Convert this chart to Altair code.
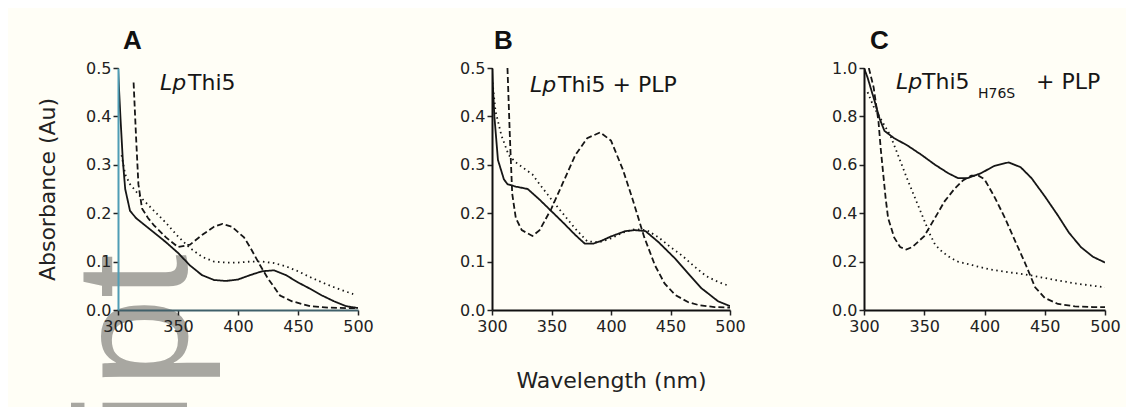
import altair as alt
import pandas as pd

# ---------------- data ----------------
# Panel A : LpThi5
A_solid_wl = [300, 302, 304, 306, 310, 315, 320, 330, 340, 350, 360, 370, 380, 390, 400, 410, 420, 430, 440, 450, 460, 470, 480, 490, 500]
A_solid_ab = [0.50, 0.40, 0.31, 0.25, 0.205, 0.19, 0.18, 0.16, 0.14, 0.118, 0.092, 0.072, 0.062, 0.060, 0.063, 0.072, 0.080, 0.082, 0.072, 0.057, 0.044, 0.030, 0.018, 0.008, 0.004]
A_dash_wl = [313, 315, 317, 320, 325, 330, 340, 350, 360, 370, 380, 387, 395, 405, 410, 418, 425, 435, 445, 460, 475, 490, 500]
A_dash_ab = [0.47, 0.36, 0.26, 0.21, 0.19, 0.175, 0.15, 0.13, 0.135, 0.155, 0.172, 0.178, 0.172, 0.15, 0.13, 0.094, 0.065, 0.03, 0.018, 0.008, 0.005, 0.004, 0.004]
A_dot_wl = [303, 306, 310, 315, 320, 330, 340, 350, 360, 370, 380, 390, 400, 410, 420, 430, 440, 450, 460, 470, 480, 490, 496]
A_dot_ab = [0.32, 0.28, 0.26, 0.245, 0.23, 0.205, 0.18, 0.152, 0.128, 0.11, 0.10, 0.098, 0.098, 0.10, 0.10, 0.097, 0.09, 0.08, 0.068, 0.057, 0.047, 0.038, 0.033]

# Panel B : LpThi5 + PLP
B_solid_wl = [300, 302, 305, 310, 313, 320, 330, 340, 350, 360, 370, 378, 385, 392, 400, 412, 420, 429, 440, 454, 465, 476, 490, 500]
B_solid_ab = [0.50, 0.40, 0.31, 0.27, 0.26, 0.255, 0.25, 0.228, 0.204, 0.18, 0.155, 0.137, 0.137, 0.143, 0.152, 0.163, 0.165, 0.163, 0.14, 0.106, 0.075, 0.045, 0.018, 0.008]
B_dash_wl = [313, 315, 317, 320, 325, 334, 340, 350, 360, 370, 380, 391, 400, 410, 418, 428, 437, 445, 454, 465, 474, 487, 500]
B_dash_ab = [0.50, 0.36, 0.24, 0.19, 0.165, 0.153, 0.165, 0.21, 0.265, 0.32, 0.355, 0.367, 0.35, 0.29, 0.23, 0.15, 0.092, 0.055, 0.031, 0.016, 0.01, 0.006, 0.005]
B_dot_wl = [300, 303, 308, 314, 320, 334, 340, 350, 360, 370, 380, 390, 400, 410, 420, 430, 440, 450, 460, 470, 480, 490, 499]
B_dot_ab = [0.48, 0.41, 0.36, 0.32, 0.305, 0.28, 0.26, 0.228, 0.198, 0.168, 0.142, 0.14, 0.148, 0.16, 0.167, 0.165, 0.15, 0.13, 0.112, 0.09, 0.07, 0.058, 0.05]

# Panel C : LpThi5 H76S + PLP
C_solid_wl = [300, 303, 306, 309, 313, 317, 325, 336, 348, 359, 370, 378, 386, 397, 408, 420, 430, 439, 450, 461, 470, 480, 490, 500]
C_solid_ab = [1.0, 0.96, 0.91, 0.86, 0.79, 0.74, 0.71, 0.68, 0.64, 0.60, 0.565, 0.545, 0.545, 0.565, 0.595, 0.61, 0.59, 0.545, 0.47, 0.39, 0.32, 0.26, 0.22, 0.196]
C_dash_wl = [304, 308, 312, 314, 316, 318, 320, 325, 330, 335, 340, 350, 360, 367, 375, 382, 389, 395, 400, 408, 417, 425, 434, 442, 450, 461, 475, 490, 500]
C_dash_ab = [1.0, 0.92, 0.78, 0.66, 0.56, 0.46, 0.38, 0.30, 0.26, 0.25, 0.26, 0.305, 0.39, 0.45, 0.50, 0.535, 0.555, 0.555, 0.54, 0.47, 0.38, 0.29, 0.19, 0.094, 0.05, 0.025, 0.015, 0.012, 0.012]
C_dot_wl = [303, 308, 315, 322, 329, 336, 343, 350, 355, 359, 365, 372, 378, 390, 405, 420, 434, 447, 461, 475, 490, 500]
C_dot_ab = [0.9, 0.84, 0.78, 0.72, 0.63, 0.54, 0.455, 0.37, 0.31, 0.27, 0.24, 0.215, 0.20, 0.185, 0.167, 0.156, 0.147, 0.135, 0.122, 0.11, 0.1, 0.094]

x_ticks = [300, 350, 400, 450, 500]
yticks_AB = [0.0, 0.1, 0.2, 0.3, 0.4, 0.5]
yticks_C = [0.0, 0.2, 0.4, 0.6, 0.8, 1.0]

# watermark pieces (rotated, partly outside the picture)
wm_parts = ["pt", "Manuscri"]

FONT = "DejaVu Sans"
INK = "#161616"
BG = "#fffef6"


def long_df(solid, dash, dot):
    rows = []
    for style, (wl, ab) in (("solid", solid), ("dashed", dash), ("dotted", dot)):
        for w, a in zip(wl, ab):
            rows.append({"wl": w, "ab": a, "style": style})
    return pd.DataFrame(rows)


def texts(items):
    layers = []
    for txt, x, y, size, style in items:
        layers.append(
            alt.Chart(pd.DataFrame({"t": [txt]}))
            .mark_text(align="left", baseline="middle", font=FONT, fontSize=size,
                       fontStyle=style, color=INK)
            .encode(x=alt.value(x), y=alt.value(y), text="t:N")
        )
    return layers


def panel(df, ymax, yvals, width, letter, letter_dx, ann, ytitle=None, xtitle=None,
          ydomain_color="#111111", xdomain_color="#111111", extra_below=None):
    xaxis = alt.Axis(values=x_ticks, format="d", labelFont=FONT, labelFontSize=16,
                     labelColor="#222222", tickSize=5, tickWidth=1.5, tickColor="#222222",
                     domainColor=xdomain_color, domainWidth=2.2, labelPadding=3,
                     labelFlush=False, grid=False, zindex=1,
                     title=xtitle if xtitle else None,
                     titleFont=FONT, titleFontSize=22, titleFontWeight="normal",
                     titleColor="#222222", titlePadding=36)
    yaxis = alt.Axis(values=yvals, format=".1f", labelFont=FONT, labelFontSize=16,
                     labelColor="#222222", tickSize=5, tickWidth=1.5, tickColor="#222222",
                     domainColor=ydomain_color, domainWidth=2, labelPadding=2,
                     labelFlush=False, grid=False, zindex=1,
                     title=ytitle if ytitle else None,
                     titleFont=FONT, titleFontSize=22, titleFontWeight="normal",
                     titleColor="#222222", titlePadding=26)
    lines = alt.Chart(df).mark_line(strokeWidth=1.8, clip=True, color=INK).encode(
        x=alt.X("wl:Q", scale=alt.Scale(domain=[300, 500], nice=False, zero=False), axis=xaxis),
        y=alt.Y("ab:Q", scale=alt.Scale(domain=[0, ymax], nice=False), axis=yaxis),
        strokeDash=alt.StrokeDash("style:N",
                                  scale=alt.Scale(domain=["solid", "dashed", "dotted"],
                                                  range=[[1, 0], [6, 3], [1.5, 3.5]]),
                                  legend=None),
        detail="style:N",
    )
    layers = []
    if extra_below is not None:
        layers += extra_below
    layers.append(lines)
    layers += texts(ann)
    return alt.layer(*layers).properties(
        width=width, height=242,
        title=alt.TitleParams(letter, anchor="start", font="Liberation Sans", fontSize=26,
                              fontWeight="bold", color="#111111", dx=letter_dx, offset=6,
                              frame="group"),
    )


watermark = [
    alt.Chart(pd.DataFrame({"t": [txt]})).mark_text(
        angle=270, align="right", baseline="alphabetic", font="Liberation Sans",
        fontSize=160, color="#a8a7a1"
    ).encode(x=alt.value(69), y=alt.value(yv), text="t:N")
    for txt, yv in zip(wm_parts, [186, 324])
]

pA = panel(long_df((A_solid_wl, A_solid_ab), (A_dash_wl, A_dash_ab), (A_dot_wl, A_dot_ab)),
           0.5, yticks_AB, 240, "A", 5,
           [("Lp", 42, 15, 22, "italic"), ("Thi5", 70, 15, 22, "normal")],
           ytitle="Absorbance (Au)", ydomain_color="#4f9db5", xdomain_color="#40606a",
           extra_below=watermark)
pB = panel(long_df((B_solid_wl, B_solid_ab), (B_dash_wl, B_dash_ab), (B_dot_wl, B_dot_ab)),
           0.5, yticks_AB, 238, "B", 2,
           [("Lp", 38, 17, 22, "italic"), ("Thi5 + PLP", 66, 17, 22, "normal")],
           xtitle="Wavelength (nm)")
pC = panel(long_df((C_solid_wl, C_solid_ab), (C_dash_wl, C_dash_ab), (C_dot_wl, C_dot_ab)),
           1.0, yticks_C, 241, "C", 6,
           [("Lp", 32, 14, 22, "italic"), ("Thi5", 58, 14, 22, "normal"),
            ("H76S", 114, 26, 14, "normal"), ("+ PLP", 172, 14, 22, "normal")])

chart = alt.hconcat(pA, pB, pC, spacing=85).properties(
    background=BG, padding={"left": 28, "top": 20, "right": 5, "bottom": 5}
).configure_view(stroke=None)

chart.save("out.html", embed_options={"renderer": "svg", "actions": False})
